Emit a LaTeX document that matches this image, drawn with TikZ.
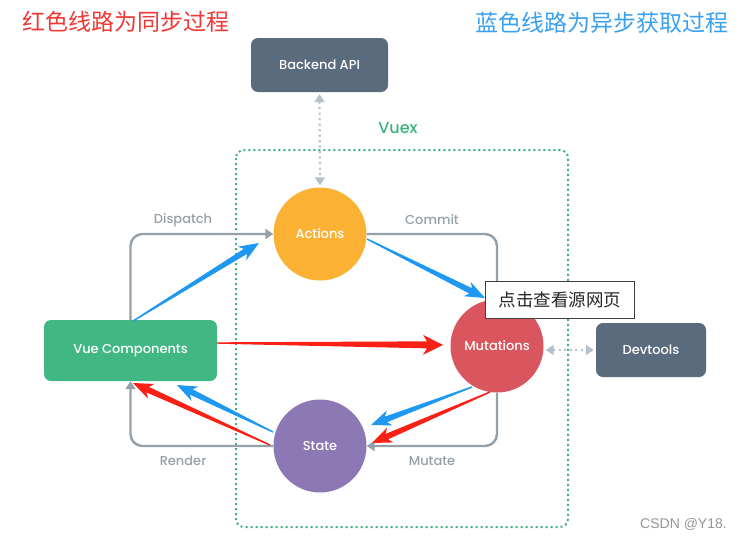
\documentclass[tikz,border=0pt]{standalone}
\usepackage{fontspec}
\setmainfont{Poppins}[BoldFont={Poppins Medium}]
\newfontfamily\cjk{Noto Sans CJK SC}
\newfontfamily\wmfont{Liberation Sans}
\usetikzlibrary{calc,arrows.meta}
\definecolor{slate}{RGB}{90,107,125}
\definecolor{vgreen}{RGB}{65,184,131}
\definecolor{boxgreen}{RGB}{60,178,125}
\definecolor{actorange}{RGB}{251,178,52}
\definecolor{mutred}{RGB}{217,86,94}
\definecolor{statepurple}{RGB}{140,120,180}
\definecolor{loopgray}{RGB}{150,160,168}
\definecolor{dotgray}{RGB}{180,193,203}
\definecolor{syncred}{RGB}{250,32,22}
\definecolor{asyncblue}{RGB}{30,152,240}
\definecolor{titlered}{RGB}{240,56,52}
\definecolor{titleblue}{RGB}{58,160,240}
\definecolor{wmgray}{RGB}{150,150,150}
\newcommand\fatarrow[7]{%
  \coordinate (fa-h) at ($(#3)!#6!(#2)$);
  \coordinate (fa-j) at ($(#3)!#6-4pt!(#2)$);
  \fill[#1] ($(#2)!#4!90:(#3)$) -- ($(fa-j)!#5!90:(#3)$) -- ($(fa-h)!#7!90:(#3)$) --
    (#3) -- ($(fa-h)!#7!-90:(#3)$) -- ($(fa-j)!#5!-90:(#3)$) -- ($(#2)!#4!-90:(#3)$) -- cycle;
}
\tikzset{
  rbox/.style={rounded corners=7pt, inner sep=0pt, text=white, font=\fontsize{13}{15}\selectfont\bfseries},
  ball/.style={circle, minimum size=93pt, inner sep=0pt, text=white, font=\fontsize{13}{15}\selectfont\bfseries},
  loopline/.style={draw=loopgray, line width=2.4pt, rounded corners=12pt},
  looptip/.style={-{Triangle[length=8pt,width=10pt]}},
  dotarrow/.style={draw=dotgray, line width=2.2pt, dash pattern=on 2pt off 3.5pt,
     {Triangle[length=8pt,width=10pt]}-{Triangle[length=8pt,width=10pt]}, shorten <=2pt, shorten >=2pt},
  looplabel/.style={text=loopgray, font=\fontsize{13}{15}\selectfont\bfseries},
}
\begin{document}
\begin{tikzpicture}[x=1pt,y=-1pt]
\useasboundingbox[fill=white] (0,0) rectangle (743,541);
% titles
\node[anchor=west, inner sep=0pt, text=titlered, font=\cjk\fontsize{23}{25}\selectfont] (t1) at (22,22) {红色线路为同步过程};
\node[anchor=east, inner sep=0pt, text=titleblue, font=\cjk\fontsize{23}{25}\selectfont] (t2) at (729,23) {蓝色线路为异步获取过程};
% vuex box
\draw[boxgreen, line width=2pt, dash pattern=on 2pt off 3pt, rounded corners=8pt] (236,150) rectangle (568,527);
\node[text=boxgreen, font=\fontsize{16}{18}\selectfont\bfseries] (vuex) at (398,128) {Vuex};
% nodes
\node[rbox, fill=slate, minimum width=137pt, minimum height=54pt] (backend) at (319.5,65) {Backend API};
\node[rbox, fill=vgreen, minimum width=173pt, minimum height=61pt] (vue) at (130.5,350.5) {Vue Components};
\node[rbox, fill=slate, minimum width=110pt, minimum height=54pt] (dev) at (651,350) {Devtools};
\node[ball, fill=actorange] (actions) at (320,234) {Actions};
\node[ball, fill=mutred] (mut) at (497,346) {Mutations};
\node[ball, fill=statepurple] (state) at (320,446) {State};
% loop
\draw[loopline, looptip] (vue.north) |- (actions.west);
\draw[loopline] (actions.east) -| (mut.north);
\draw[loopline, looptip] (mut.south) |- (state.east);
\draw[loopline, looptip] (state.west) -| (vue.south);
\node[looplabel] (ldisp) at (183,220) {Dispatch};
\node[looplabel] (lcommit) at (432,220) {Commit};
\node[looplabel] (lrender) at (183,461) {Render};
\node[looplabel] (lmutate) at (432,461) {Mutate};
% dotted arrows
\draw[dotarrow] (backend.south) -- (actions.north);
\draw[dotarrow] (mut.east |- dev.west) -- (dev.west);
% fat arrows
\coordinate (b1s) at (133,321); \coordinate (b1e) at (259,243);
\coordinate (b2s) at (367,239); \coordinate (b2e) at (485,298);
\coordinate (b3s) at (472,387); \coordinate (b3e) at (371,425);
\coordinate (b4s) at (273,432); \coordinate (b4e) at (177,385);
\coordinate (r1s) at (217,343); \coordinate (r1e) at (443,345);
\coordinate (r2s) at (490,392); \coordinate (r2e) at (372,443);
\coordinate (r3s) at (270,445); \coordinate (r3e) at (133,383);
\fatarrow{asyncblue}{b1s}{b1e}{0.7pt}{3pt}{20pt}{8pt}
\fatarrow{asyncblue}{b2s}{b2e}{0.7pt}{3pt}{20pt}{8pt}
\fatarrow{asyncblue}{b3s}{b3e}{0.7pt}{3pt}{20pt}{8pt}
\fatarrow{asyncblue}{b4s}{b4e}{0.7pt}{3pt}{20pt}{8pt}
\fatarrow{syncred}{r1s}{r1e}{0.7pt}{3.5pt}{20pt}{10pt}
\fatarrow{syncred}{r2s}{r2e}{0.7pt}{3pt}{20pt}{8pt}
\fatarrow{syncred}{r3s}{r3e}{0.7pt}{3pt}{20pt}{8pt}
% popup
\node[draw=black!75, line width=0.8pt, fill=white, anchor=north west, minimum width=149pt, minimum height=37pt, inner sep=0pt, text=black!85, font=\cjk\fontsize{17.5}{19}\selectfont] (popup) at (485,281) {点击查看源网页};
% watermark
\node[anchor=east, inner sep=0pt, text=wmgray, font=\wmfont\fontsize{14}{16}\selectfont] (wm) at (727,524) {CSDN @Y18.};
\end{tikzpicture}
\end{document}
